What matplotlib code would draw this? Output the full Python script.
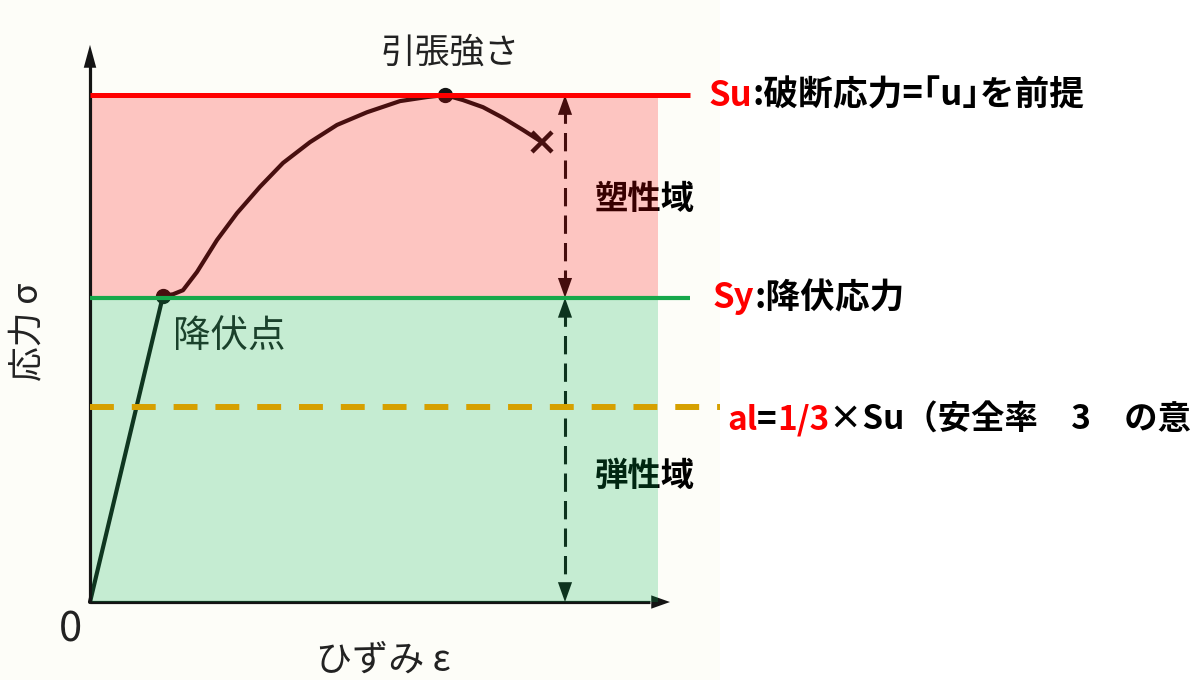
import matplotlib
matplotlib.use("Agg")
import matplotlib.pyplot as plt
from matplotlib.patches import Rectangle

FAM = ['Noto Sans CJK JP', 'DejaVu Sans']
plt.rcParams['font.family'] = FAM

# ---- data (normalised: Su = 1) ----
strain = [0.000, 0.146, 0.166, 0.186, 0.214, 0.254, 0.294, 0.340, 0.386, 0.440,
          0.494, 0.554, 0.620, 0.674, 0.710, 0.746, 0.786, 0.826, 0.866, 0.904]
stress = [0.000, 0.604, 0.607, 0.615, 0.651, 0.714, 0.767, 0.819, 0.866, 0.907,
          0.941, 0.966, 0.988, 0.996, 1.000, 0.990, 0.976, 0.955, 0.931, 0.907]
yield_pt = (0.146, 0.604)
peak_pt = (0.710, 1.000)
fracture_pt = (0.904, 0.907)

Su = 1.0
Sy = 0.6
S_allow = 0.385

label_tensile = "引張強さ"
label_yield = "降伏点"
label_ylabel = "応力 σ"
label_xlabel = "ひずみ ε"
label_origin = "0"
label_plastic = "塑性域"
label_elastic = "弾性域"
su_parts = [("Su", "red"), (":破断応力=｢u｣を前提", "black")]
sy_parts = [("Sy", "red"), (":降伏応力", "black")]
sa_parts = [("al", "red"), ("=", "black"), ("1/3", "red"), ("×Su（安全率\u30003\u3000の意", "black")]

# ---- figure ----
fig = plt.figure(figsize=(12.02, 6.8), dpi=100)
ax = fig.add_axes([0, 0, 1, 1])
ax.set_xlim(-0.18, 2.224)
ax.set_ylim(-0.1538, 1.1874)
ax.axis('off')

ink = '#141414'
# scanned-paper background
ax.add_patch(Rectangle((-0.18, -0.1538), 1.44, 1.35, facecolor='#fdfdf8', edgecolor='none', zorder=0))

# axes of the scanned diagram
ax.plot([0, 0], [0, 1.06], color=ink, lw=2.3, zorder=2, solid_capstyle='butt')
ax.plot([0, 1.12], [0, 0], color=ink, lw=2.3, zorder=2, solid_capstyle='butt')
ax.annotate('', xy=(0, 1.099), xytext=(0, 1.04),
            arrowprops=dict(arrowstyle='-|>,head_length=0.55,head_width=0.15', color=ink, lw=0,
                            mutation_scale=30, shrinkA=0, shrinkB=0), zorder=2)
ax.annotate('', xy=(1.16, 0), xytext=(1.10, 0),
            arrowprops=dict(arrowstyle='-|>,head_length=0.45,head_width=0.16', color=ink, lw=0,
                            mutation_scale=30, shrinkA=0, shrinkB=0), zorder=2)

# stress-strain curve
ax.plot(strain, stress, color=ink, lw=3.0, zorder=3, solid_capstyle='round', solid_joinstyle='round')
ax.plot(*yield_pt, 'o', color=ink, ms=10, zorder=3)
ax.plot(*peak_pt, 'o', color=ink, ms=10, zorder=3)
ax.plot(*fracture_pt, 'x', color=ink, ms=15, mew=3.2, zorder=3)

# scanned text
scan_col = '#222222'
ax.text(0.72, 1.082, label_tensile, fontsize=25, color=scan_col, ha='center', va='center', zorder=3)
ax.text(0.166, 0.523, label_yield, fontsize=27, color=scan_col, ha='left', va='center', zorder=3)
ax.text(-0.122, 0.532, label_ylabel, fontsize=25, color=scan_col, ha='center', va='center', rotation=90, zorder=3)
ax.text(-0.04, -0.055, label_origin, fontsize=30, color=scan_col, ha='center', va='center', zorder=3)
ax.text(0.586, -0.151, label_xlabel, fontsize=26, color=scan_col, ha='center', va='bottom', zorder=3)

# dashed double arrows
xa = 0.95
dash_col = '#111111'
ax.plot([xa, xa], [Su - 0.02, Sy + 0.02], color=dash_col, lw=2.2, dashes=(6, 3), zorder=3)
ax.plot([xa, xa], [Sy - 0.02, 0.02], color=dash_col, lw=2.2, dashes=(6, 3), zorder=3)
head = dict(arrowstyle='-|>,head_length=0.42,head_width=0.15', color=dash_col, lw=0,
            mutation_scale=34, shrinkA=0, shrinkB=0)
for tip, tail in [(Su, Su - 0.05), (Sy, Sy + 0.05), (Sy, Sy - 0.05), (0, 0.05)]:
    ax.annotate('', xy=(xa, tip), xytext=(xa, tail), arrowprops=head, zorder=3)

# region labels
ax.text(1.010, 0.793, label_plastic, fontsize=24, fontweight='bold', color='black', ha='left', va='center', zorder=3)
ax.text(1.010, 0.2485, label_elastic, fontsize=24, fontweight='bold', color='black', ha='left', va='center', zorder=3)

# translucent overlays
ax.add_patch(Rectangle((0.004, Sy), 1.132, Su - Sy, facecolor=(1, 0, 0), alpha=0.22, edgecolor='none', zorder=5))
ax.add_patch(Rectangle((0.004, 0.0), 1.132, Sy, facecolor=(0, 0.69, 0.31), alpha=0.22, edgecolor='none', zorder=5))

# stress levels
ax.plot([0, 1.2], [Su, Su], color='#ff0000', lw=3.6, zorder=6, solid_capstyle='butt')
ax.plot([0, 1.2], [Sy, Sy], color='#16a84b', lw=3.0, zorder=6, solid_capstyle='butt')
ax.plot([0.0, 1.26], [S_allow, S_allow], color='#d6a000', lw=4.3, dashes=(4.0, 3.0), zorder=6)


def chain(x, y, parts, fs):
    t = ax.text(x, y, parts[0][0], color=parts[0][1], fontsize=fs, fontweight='bold',
                va='center', ha='left', zorder=7)
    for s, c in parts[1:]:
        t = ax.annotate(s, xy=(1, 0), xycoords=t, va='bottom', ha='left', color=c,
                        fontsize=fs, fontweight='bold', zorder=7)


chain(1.238, Su, su_parts, 25)
chain(1.246, Sy, sy_parts, 25)
chain(1.274, 0.359, sa_parts, 24)

fig.savefig('out.png', dpi=100)
